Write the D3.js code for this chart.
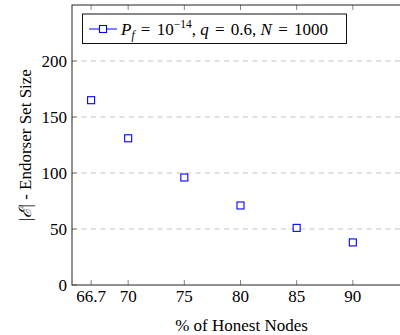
<!DOCTYPE html>
<html>
<head>
<meta charset="utf-8">
<script src="https://cdn.jsdelivr.net/npm/d3@7"></script>
<style>
  html, body { margin: 0; padding: 0; background: #fff; }
  svg { display: block; }
  svg text { white-space: pre; }
</style>
</head>
<body>
<svg id="chart" width="400" height="335" font-family="'Liberation Serif', 'DejaVu Serif', serif"></svg>
<script>
// --- data ---
const honestPct = [66.7, 70, 75, 80, 85, 90];
const endorserSize = [165, 131, 96, 71, 51, 38];
const xTicks = [66.7, 70, 75, 80, 85, 90];
const xTickLabels = ['66.7', '70', '75', '80', '85', '90'];
const yTicks = [0, 50, 100, 150, 200];
const gridTicks = [50, 100, 150, 200];

const width = 400, height = 335;
const margin = { left: 72, top: 5, right: -9, bottom: 50 };
const fs = 17;

const svg = d3.select('#chart');

const x = d3.scaleLinear().domain([65, 95]).range([margin.left, width - margin.right]);
const y = d3.scaleLinear().domain([0, 250]).range([height - margin.bottom, margin.top]);

const [x0, x1] = x.range();
const [yb, yt] = y.range();

// --- grid lines ---
svg.append('g')
  .selectAll('line')
  .data(gridTicks)
  .join('line')
  .attr('x1', x0).attr('x2', x1)
  .attr('y1', d => y(d)).attr('y2', d => y(d))
  .attr('stroke', '#b4b4b4')
  .attr('stroke-width', 0.8)
  .attr('stroke-dasharray', '5,4.5');

// --- ticks (inward, mirrored on top) ---
const tickLen = 5;
const ticks = svg.append('g').attr('stroke', '#666').attr('stroke-width', 0.8);
xTicks.forEach(t => {
  ticks.append('line').attr('x1', x(t)).attr('x2', x(t)).attr('y1', yb).attr('y2', yb - tickLen);
  ticks.append('line').attr('x1', x(t)).attr('x2', x(t)).attr('y1', yt).attr('y2', yt + tickLen);
});
yTicks.forEach(t => {
  ticks.append('line').attr('x1', x0).attr('x2', x0 + tickLen).attr('y1', y(t)).attr('y2', y(t));
});

// --- frame ---
svg.append('rect')
  .attr('x', x0).attr('y', yt)
  .attr('width', x1 - x0).attr('height', yb - yt)
  .attr('fill', 'none')
  .attr('stroke', '#222')
  .attr('stroke-width', 1);

// --- tick labels ---
svg.append('g')
  .selectAll('text')
  .data(xTicks)
  .join('text')
  .attr('x', d => x(d))
  .attr('y', yb + 17)
  .attr('text-anchor', 'middle')
  .attr('font-size', fs)
  .text((d, i) => xTickLabels[i]);

svg.append('g')
  .selectAll('text')
  .data(yTicks)
  .join('text')
  .attr('x', x0 - 5)
  .attr('y', d => y(d) + 5.5)
  .attr('text-anchor', 'end')
  .attr('font-size', fs)
  .text(d => d);

// --- axis titles ---
svg.append('text')
  .attr('x', (x0 + x1) / 2 + 1)
  .attr('y', 331)
  .attr('text-anchor', 'middle')
  .attr('font-size', fs)
  .text('% of Honest Nodes');

const yTitle = svg.append('text')
  .attr('transform', `translate(31,${(yt + yb) / 2}) rotate(-90)`)
  .attr('text-anchor', 'middle')
  .attr('font-size', fs);
yTitle.append('tspan').text('|');
yTitle.append('tspan').attr('font-style', 'italic').text('ℰ');
yTitle.append('tspan').text('| - Endorser Set Size');

// --- data markers ---
const mk = 7;
svg.append('g')
  .selectAll('rect')
  .data(honestPct.map((p, i) => ({ p, v: endorserSize[i] })))
  .join('rect')
  .attr('x', d => x(d.p) - mk / 2)
  .attr('y', d => y(d.v) - mk / 2)
  .attr('width', mk).attr('height', mk)
  .attr('fill', '#fff')
  .attr('stroke', '#0000ff')
  .attr('stroke-width', 1.1);

// --- legend ---
const lg = svg.append('g');
lg.append('rect')
  .attr('x', 82.5).attr('y', 14)
  .attr('width', 264).attr('height', 29.5)
  .attr('fill', '#fff')
  .attr('stroke', '#111')
  .attr('stroke-width', 1);
lg.append('line')
  .attr('x1', 89).attr('x2', 117)
  .attr('y1', 29).attr('y2', 29)
  .attr('stroke', '#0000ff').attr('stroke-width', 1);
lg.append('rect')
  .attr('x', 103 - mk / 2).attr('y', 29 - mk / 2)
  .attr('width', mk).attr('height', mk)
  .attr('fill', '#fff')
  .attr('stroke', '#0000ff').attr('stroke-width', 1.1);

// math-style legend label, with TeX-like spacing around relations
const sub = 11.5;
const lt = lg.append('text').attr('x', 121).attr('y', 35).attr('font-size', fs);
lt.append('tspan').attr('font-style', 'italic').text('P');
lt.append('tspan').attr('font-style', 'italic').attr('font-size', sub).attr('dy', 3.5).text('f');
lt.append('tspan').attr('dy', -3.5).attr('dx', 2).text(' = ');
lt.append('tspan').attr('dx', 2).text('10');
lt.append('tspan').attr('font-size', sub).attr('dy', -7.5).text('−14');
lt.append('tspan').attr('dy', 7.5).text(', ');
lt.append('tspan').attr('font-style', 'italic').text('q');
lt.append('tspan').attr('dx', 2).text(' = ');
lt.append('tspan').attr('dx', 2).text('0.6, ');
lt.append('tspan').attr('font-style', 'italic').text('N');
lt.append('tspan').attr('dx', 2).text(' = ');
lt.append('tspan').attr('dx', 2).text('1000');
</script>
</body>
</html>
